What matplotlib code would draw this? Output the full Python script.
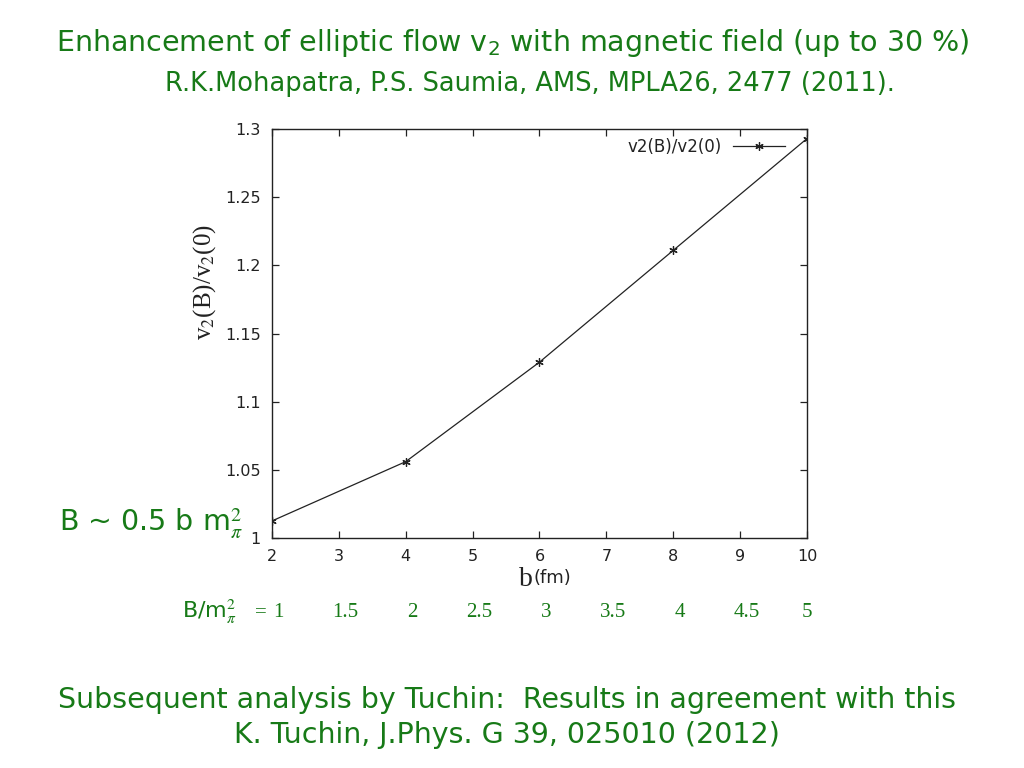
import matplotlib
matplotlib.use("Agg")
import matplotlib.pyplot as plt
import matplotlib.transforms as mtransforms

# Data
b_fm = [2, 4, 6, 8, 10]
ratio = [1.0125, 1.056, 1.129, 1.211, 1.293]
xticks = [2, 3, 4, 5, 6, 7, 8, 9, 10]
yticks = [1.0, 1.05, 1.1, 1.15, 1.2, 1.25, 1.3]
ytick_labels = ["1", "1.05", "1.1", "1.15", "1.2", "1.25", "1.3"]
b_over_m = ["1", "1.5", "2", "2.5", "3", "3.5", "4", "4.5", "5"]

GREEN = "#177a17"
INK = "#222222"

fig = plt.figure(figsize=(10.24, 7.68), dpi=100)
fig.patch.set_facecolor("white")
ax = fig.add_axes([0.2656, 0.2995, 0.5225, 0.5325])

ax.plot(b_fm, ratio, color=INK, lw=0.9, marker=(6, 2, 0), ms=6,
        mew=0.9, label="v2(B)/v2(0)")
ax.set_xlim(2, 10)
ax.set_ylim(1.0, 1.3)
ax.set_xticks(xticks)
ax.set_xticklabels([str(v) for v in xticks])
ax.set_yticks(yticks)
ax.set_yticklabels(ytick_labels)
ax.tick_params(direction="in", top=True, right=True, length=5, width=0.9,
               labelsize=11.5, pad=8, colors=INK)
for lab in ax.get_xticklabels() + ax.get_yticklabels():
    lab.set_fontfamily("DejaVu Sans")
for s in ax.spines.values():
    s.set_linewidth(1.0)
    s.set_color(INK)

leg = ax.legend(loc="upper right", bbox_to_anchor=(0.959, 0.979),
                frameon=False, markerfirst=False,
                prop={"family": "DejaVu Sans", "size": 12},
                handlelength=3.1, borderaxespad=0, borderpad=0,
                handletextpad=0.7)
for t in leg.get_texts():
    t.set_color(INK)

# Axis labels
fig.text(0.200, 0.633, r"v$_2$(B)/v$_2$(0)", rotation=90, ha="center",
         va="center", fontsize=18, family="Liberation Serif",
         math_fontfamily="stix", color=INK)
fig.text(0.520, 0.245, "b", ha="right", va="center", fontsize=20,
         family="Liberation Serif", color=INK)
fig.text(0.521, 0.247, "(fm)", ha="left", va="center", fontsize=13,
         family="DejaVu Sans", color=INK)

# Titles
fig.text(0.501, 0.944, r"Enhancement of elliptic flow v$_2$ with magnetic field (up to 30 %)",
         ha="center", va="center", fontsize=20.5, color=GREEN, family="DejaVu Sans")
fig.text(0.518, 0.891, "R.K.Mohapatra, P.S. Saumia, AMS, MPLA26, 2477 (2011).",
         ha="center", va="center", fontsize=18.5, color=GREEN, family="DejaVu Sans")

# B relation
fig.text(0.058, 0.318, r"B ~ 0.5 b m$_{\pi}^{2}$", ha="left", va="center",
         fontsize=20.5, color=GREEN, family="DejaVu Sans", math_fontfamily="stix")

# B/m_pi^2 row
trans = mtransforms.blended_transform_factory(ax.transData, fig.transFigure)
fig.text(0.178, 0.203, r"B/m$_{\pi}^{2}$", ha="left", va="center",
         fontsize=16, color=GREEN, family="DejaVu Sans", math_fontfamily="stix")
fig.text(0.249, 0.203, "=", ha="left", va="center",
         fontsize=15, color=GREEN, family="Liberation Serif")
for xv, lab in zip(xticks, b_over_m):
    ax.text(xv if xv == 10 else xv + 0.1, 0.203, lab, transform=trans,
            ha="center", va="center", fontsize=15, color=GREEN,
            family="Liberation Serif", clip_on=False)

# Bottom lines
fig.text(0.495, 0.089, "Subsequent analysis by Tuchin:  Results in agreement with this",
         ha="center", va="center", fontsize=20.5, color=GREEN, family="DejaVu Sans")
fig.text(0.495, 0.043, "K. Tuchin, J.Phys. G 39, 025010 (2012)",
         ha="center", va="center", fontsize=20.5, color=GREEN, family="DejaVu Sans")

fig.savefig("out.png", dpi=100, facecolor="white")
